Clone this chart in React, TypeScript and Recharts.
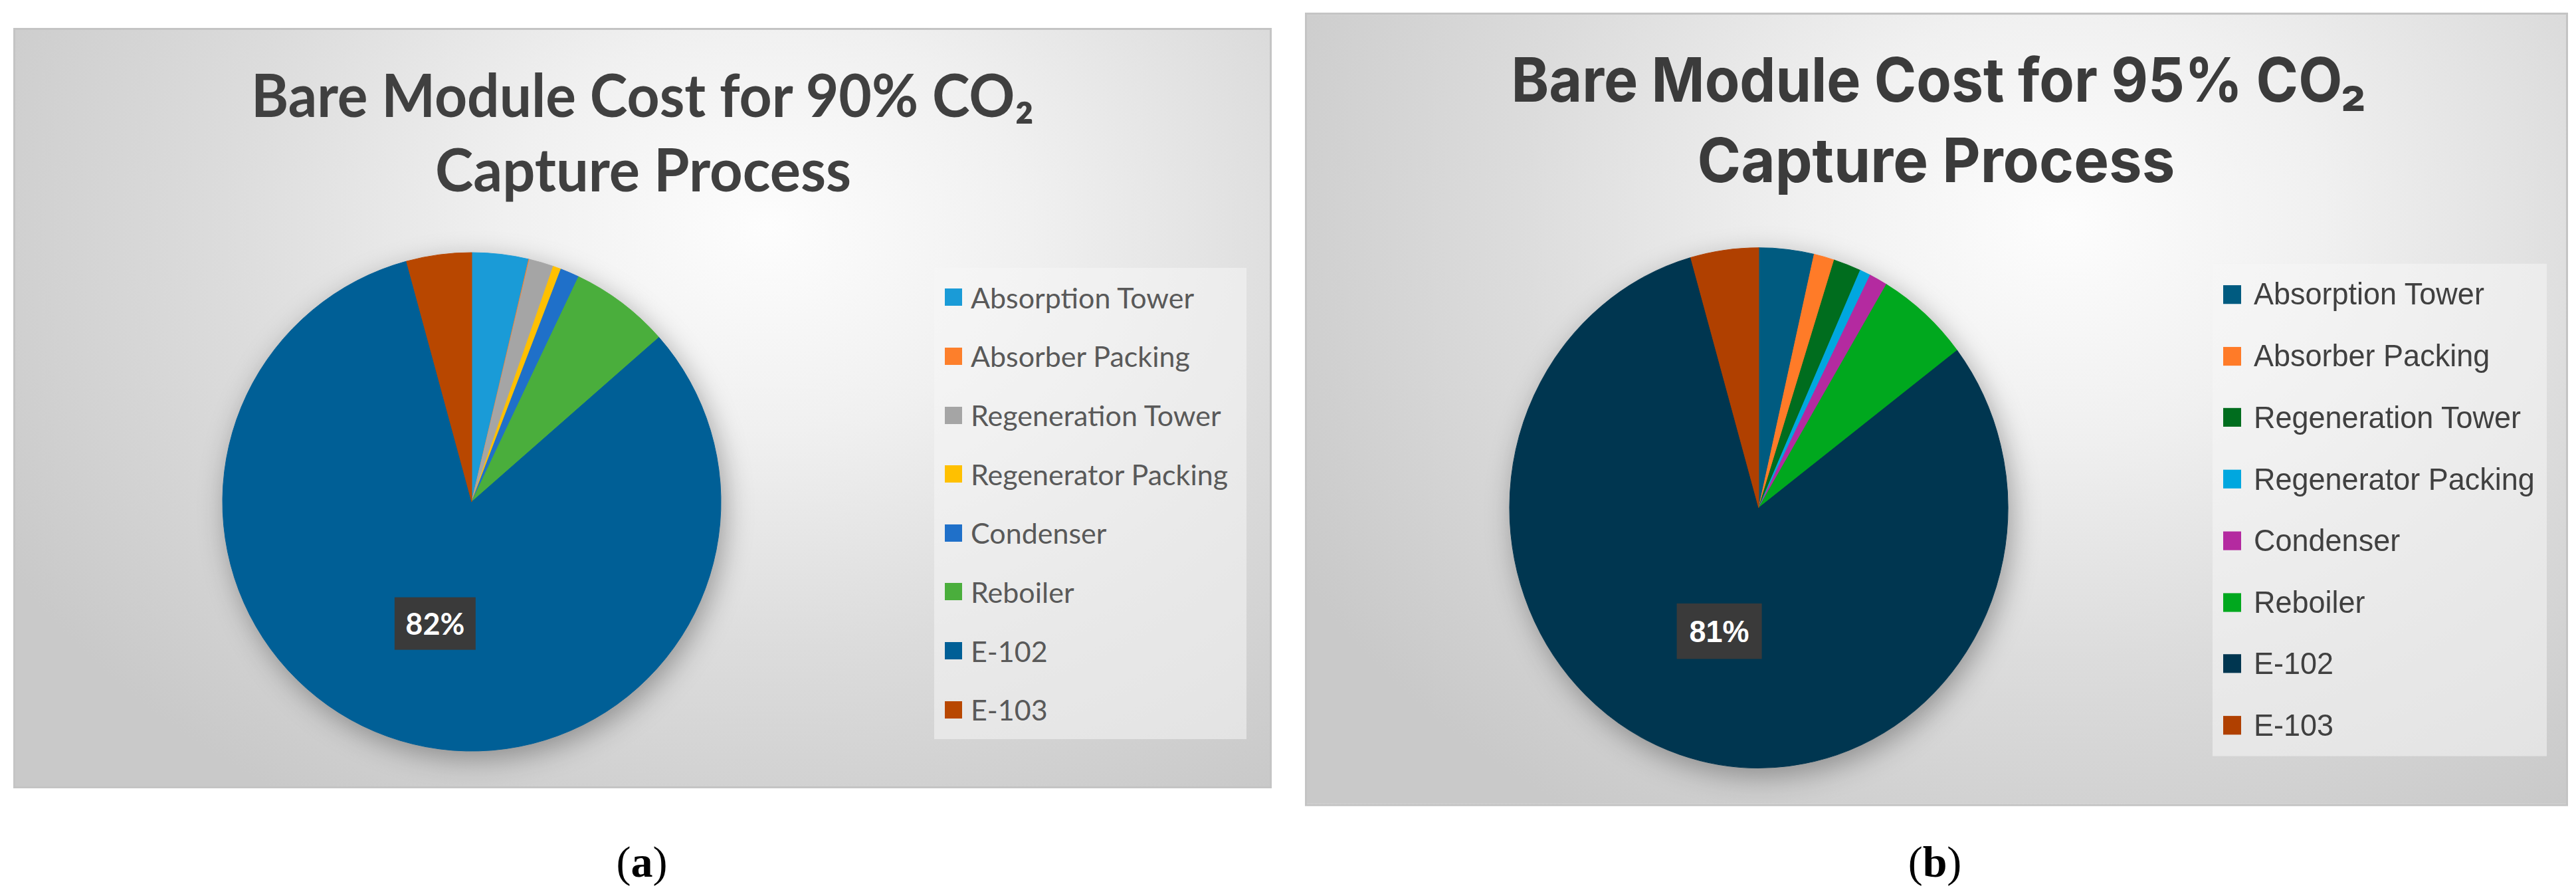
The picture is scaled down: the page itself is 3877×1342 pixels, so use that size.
import React from "react";
import { PieChart, Pie, Cell, Legend } from "recharts";

const categories = [
  "Absorption Tower",
  "Absorber Packing",
  "Regeneration Tower",
  "Regenerator Packing",
  "Condenser",
  "Reboiler",
  "E-102",
  "E-103",
];

// share of bare module cost (%)
const cost90 = [3.68, 0.05, 1.58, 0.52, 1.23, 6.48, 82.29, 4.22];
const cost95 = [3.57, 1.33, 1.78, 0.7, 1.18, 6.1, 80.94, 4.4];

const colors90 = ["#1a9bd7", "#fd7f2b", "#a5a5a5", "#ffc000", "#1f70c9", "#4aae3c", "#005f96", "#b84700"];
const colors95 = ["#005b80", "#ff7b28", "#006d1e", "#00a7df", "#b42aa0", "#00a81e", "#003650", "#b04000"];

const titleLine1_90 = "Bare Module Cost for 90% CO₂";
const titleLine1_95 = "Bare Module Cost for 95% CO₂";
const titleLine2 = "Capture Process";
const labelled = "E-102";

const RADIAN = Math.PI / 180;

type PanelCfg = {
  left: number;
  top: number;
  width: number;
  height: number;
  scaleY: number;
  cx: number;
  cy: number;
  r: number;
  titleFont: string;
  titleSize: number;
  titleColor: string;
  lines: { cx: number; y: number; len: number }[];
  legend: { left: number; top: number; width: number; height: number };
  legendFont: string;
  legendSize: number;
  legendColor: string;
  swatch: number;
  swatchLeft: number;
  swatchGap: number;
  labelW: number;
  labelH: number;
  labelFont: string;
  labelSize: number;
  labelDist: number;
};

const panelA: PanelCfg = {
  left: 20,
  top: 42,
  width: 1894,
  height: 1144,
  scaleY: 1,
  cx: 687,
  cy: 710,
  r: 375,
  titleFont: "Lato, 'Open Sans', sans-serif",
  titleSize: 89,
  titleColor: "#404040",
  lines: [
    { cx: 947, y: 134, len: 1178 },
    { cx: 948, y: 246, len: 626 },
  ],
  legend: { left: 1383, top: 358, width: 470, height: 709 },
  legendFont: "Lato, 'Open Sans', sans-serif",
  legendSize: 43,
  legendColor: "#595959",
  swatch: 26,
  swatchLeft: 16,
  swatchGap: 13,
  labelW: 122,
  labelH: 79,
  labelFont: "Lato, sans-serif",
  labelSize: 45,
  labelDist: 0.51,
};

const panelB: PanelCfg = {
  left: 1964,
  top: 19,
  width: 1901,
  height: 1144,
  scaleY: 1.0435,
  cx: 680,
  cy: 711,
  r: 375,
  titleFont: "Inter, Roboto, sans-serif",
  titleSize: 88,
  titleColor: "#3b3b3b",
  lines: [
    { cx: 954, y: 128, len: 1287 },
    { cx: 950, y: 244, len: 719 },
  ],
  legend: { left: 1363, top: 359, width: 503, height: 710 },
  legendFont: "'Liberation Sans', Arial, sans-serif",
  legendSize: 45,
  legendColor: "#404040",
  swatch: 27,
  swatchLeft: 16,
  swatchGap: 19,
  labelW: 128,
  labelH: 80,
  labelFont: "'Liberation Sans', Arial, sans-serif",
  labelSize: 45,
  labelDist: 0.5,
};

const byCategory = (item: any) => categories.indexOf(item.value);

function CostPanel({
  cfg,
  values,
  colors,
  line1,
}: {
  cfg: PanelCfg;
  values: number[];
  colors: string[];
  line1: string;
}) {
  const data = categories.map((name, i) => ({ name, value: values[i], fill: colors[i] }));

  const renderLabel = (props: any) => {
    if (props.name !== labelled) return null;
    const { cx, cy, midAngle, outerRadius, percent } = props;
    const d = outerRadius * cfg.labelDist;
    const x = cx + d * Math.cos(-midAngle * RADIAN);
    const y = cy + d * Math.sin(-midAngle * RADIAN);
    return (
      <g>
        <rect
          x={x - cfg.labelW / 2}
          y={y - cfg.labelH / 2}
          width={cfg.labelW}
          height={cfg.labelH}
          fill="#3a3a3a"
        />
        <text
          x={x}
          y={y}
          fill="#ffffff"
          textAnchor="middle"
          dominantBaseline="central"
          fontFamily={cfg.labelFont}
          fontWeight={700}
          fontSize={cfg.labelSize}
        >
          {`${Math.round(percent * 100)}%`}
        </text>
      </g>
    );
  };

  const renderLegend = (props: any) => {
    const items = [...(props.payload || [])].sort((a: any, b: any) => byCategory(a) - byCategory(b));
    const rowH = cfg.legend.height / items.length;
    return (
      <div
        style={{
          width: cfg.legend.width,
          height: cfg.legend.height,
          background: "rgba(245,245,245,0.55)",
        }}
      >
        {items.map((it: any) => (
          <div
            key={it.value}
            style={{
              height: rowH,
              display: "flex",
              alignItems: "center",
              paddingLeft: cfg.swatchLeft,
              fontFamily: cfg.legendFont,
              fontSize: cfg.legendSize,
              color: cfg.legendColor,
              whiteSpace: "nowrap",
            }}
          >
            <span
              style={{
                display: "inline-block",
                width: cfg.swatch,
                height: cfg.swatch,
                background: it.color,
                marginRight: cfg.swatchGap,
                flex: "none",
              }}
            />
            {it.value}
          </div>
        ))}
      </div>
    );
  };

  return (
    <div
      className="panel"
      style={{
        position: "absolute",
        left: cfg.left,
        top: cfg.top,
        width: cfg.width,
        height: cfg.height,
        transform: `scaleY(${cfg.scaleY})`,
        transformOrigin: "top left",
        boxSizing: "border-box",
        border: "3px solid #c4c4c4",
        background:
          "radial-gradient(ellipse 70% 90% at 60% 26%, #fdfdfd 0%, #f0f0f0 30%, #dcdcdc 62%, #c9c9c9 100%)",
      }}
    >
      <PieChart width={cfg.width - 6} height={cfg.height - 6} margin={{ top: 0, right: 0, bottom: 0, left: 0 }}>
        <Pie
          data={data}
          dataKey="value"
          nameKey="name"
          cx={cfg.cx}
          cy={cfg.cy}
          outerRadius={cfg.r}
          startAngle={90}
          endAngle={-270}
          label={renderLabel}
          labelLine={false}
          isAnimationActive={false}
        >
          {data.map((d) => (
            <Cell key={d.name} fill={d.fill} stroke={d.fill} strokeWidth={1} />
          ))}
        </Pie>
        <Legend
          layout="vertical"
          align="right"
          verticalAlign="middle"
          itemSorter={byCategory}
          content={renderLegend}
          wrapperStyle={{
            left: cfg.legend.left,
            top: cfg.legend.top,
            width: cfg.legend.width,
            height: cfg.legend.height,
          }}
        />
      </PieChart>
      <svg
        width={cfg.width}
        height={cfg.height}
        style={{ position: "absolute", left: -3, top: -3, pointerEvents: "none" }}
      >
        {[line1, titleLine2].map((t, i) => (
          <text
            key={t}
            x={cfg.lines[i].cx}
            y={cfg.lines[i].y}
            textAnchor="middle"
            textLength={cfg.lines[i].len}
            lengthAdjust="spacingAndGlyphs"
            fontFamily={cfg.titleFont}
            fontWeight={700}
            fontSize={cfg.titleSize}
            fill={cfg.titleColor}
          >
            {t}
          </text>
        ))}
      </svg>
    </div>
  );
}

function Caption({ x, letter }: { x: number; letter: string }) {
  return (
    <div
      style={{
        position: "absolute",
        left: x - 100,
        top: 1262,
        width: 200,
        textAlign: "center",
        fontFamily: "'Liberation Serif', 'Times New Roman', serif",
        fontSize: 66,
        lineHeight: "70px",
        color: "#000",
      }}
    >
      (<b>{letter}</b>)
    </div>
  );
}

export default function App() {
  return (
    <div style={{ position: "relative", width: 3877, height: 1342, background: "#fff", overflow: "hidden" }}>
      <style>{`
        body { margin: 0; }
        .panel .recharts-pie { filter: drop-shadow(6px 12px 20px rgba(0,0,0,0.32)); }
      `}</style>
      <CostPanel cfg={panelA} values={cost90} colors={colors90} line1={titleLine1_90} />
      <CostPanel cfg={panelB} values={cost95} colors={colors95} line1={titleLine1_95} />
      <Caption x={966} letter="a" />
      <Caption x={2912} letter="b" />
    </div>
  );
}
